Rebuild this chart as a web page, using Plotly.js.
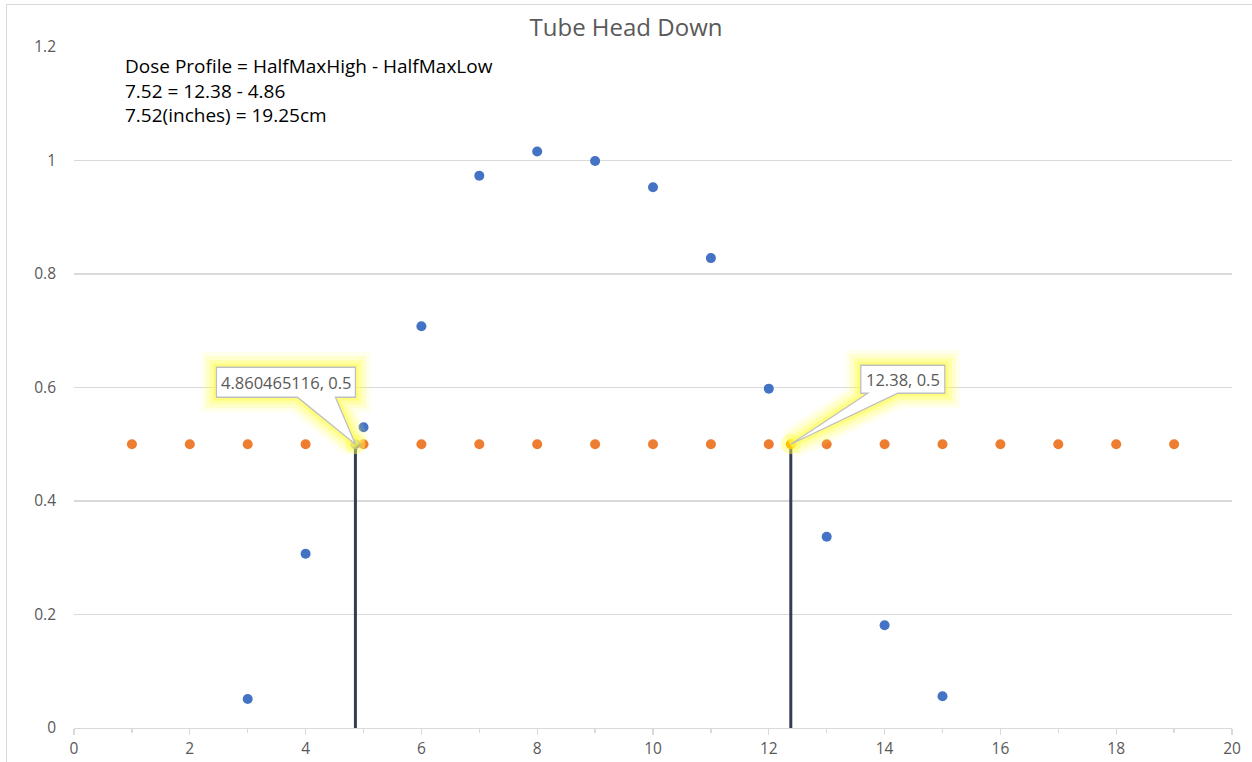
<!DOCTYPE html>
<html>
<head>
<meta charset="utf-8">
<script src="https://cdn.plot.ly/plotly-3.0.1.min.js"></script>
<style>
  html, body { margin:0; padding:0; background:#fff; }
  #chart { width:1252px; height:762px; }
  #frame { position:absolute; left:6px; top:4px; width:1250px; height:770px; border:1px solid #d9d9d9; pointer-events:none; }
</style>
</head>
<body>
<div id="chart"></div>
<div id="frame"></div>
<script>
// ---- data ----
const doseX = [3, 4, 5, 6, 7, 8, 9, 10, 11, 12, 13, 14, 15];
const doseY = [0.051, 0.307, 0.530, 0.708, 0.973, 1.016, 0.999, 0.953, 0.828, 0.598, 0.337, 0.181, 0.056];
const halfLineX = [1, 2, 3, 4, 5, 6, 7, 8, 9, 10, 11, 12, 13, 14, 15, 16, 17, 18, 19];
const halfLineY = [0.5, 0.5, 0.5, 0.5, 0.5, 0.5, 0.5, 0.5, 0.5, 0.5, 0.5, 0.5, 0.5, 0.5, 0.5, 0.5, 0.5, 0.5, 0.5];
const halfMaxLowX = 4.860465116;
const halfMaxHighX = 12.38;
const halfMaxY = 0.5;
const lowLabel = "4.860465116, 0.5";
const highLabel = "12.38, 0.5";
const noteLines = ["Dose Profile = HalfMaxHigh - HalfMaxLow", "7.52 = 12.38 - 4.86", "7.52(inches) = 19.25cm"];
const xTickVals = [0, 2, 4, 6, 8, 10, 12, 14, 16, 18, 20];
const yTickVals = [0, 0.2, 0.4, 0.6, 0.8, 1, 1.2];

const FONT = "'Open Sans', 'Noto Sans', sans-serif";
const textGrey = "#595959";

const traces = [
  { x: [halfMaxLowX, halfMaxLowX], y: [0, halfMaxY], mode: 'lines', line: {color: '#333f50', width: 3}, hoverinfo: 'skip' },
  { x: [halfMaxHighX, halfMaxHighX], y: [0, halfMaxY], mode: 'lines', line: {color: '#333f50', width: 3}, hoverinfo: 'skip' },
  { x: doseX, y: doseY, mode: 'markers', marker: {color: '#4472C4', size: 10} },
  { x: halfLineX, y: halfLineY, mode: 'markers', marker: {color: '#ED7D31', size: 10} },
  { x: [halfMaxLowX], y: [halfMaxY], mode: 'markers', marker: {color: 'rgba(255,255,90,0.45)', size: 20} },
  { x: [halfMaxHighX], y: [halfMaxY], mode: 'markers', marker: {color: 'rgba(255,255,90,0.45)', size: 20} },
  { x: [halfMaxLowX], y: [halfMaxY], mode: 'markers', marker: {color: '#B5B57E', size: 10} },
  { x: [halfMaxHighX], y: [halfMaxY], mode: 'markers', marker: {color: '#FFC000', size: 10} }
];

// callout outlines in pixel offsets relative to the anchored data point (y up)
function callout(box, wedge) {
  const [l, r, b, t] = box;
  const [w1, w2] = wedge;
  return `M${l},${t} L${r},${t} L${r},${b} L${w2},${b} L0,0 L${w1},${b} L${l},${b} Z`;
}
const lowPath = callout([-139, 0, 47, 77], [-58, -20]);
const highPath = callout([70, 154, 51, 79], [77, 107]);

function calloutShapes(xa, path) {
  const base = { type: 'path', xref: 'x', yref: 'y', xsizemode: 'pixel', ysizemode: 'pixel',
                 xanchor: xa, yanchor: halfMaxY, path: path, layer: 'above' };
  return [
    Object.assign({}, base, { line: {color: 'rgba(255,255,90,0.12)', width: 30}, fillcolor: 'rgba(255,255,90,0.2)' }),
    Object.assign({}, base, { line: {color: 'rgba(255,255,90,0.2)', width: 22}, fillcolor: 'rgba(0,0,0,0)' }),
    Object.assign({}, base, { line: {color: 'rgba(255,255,80,0.3)', width: 14}, fillcolor: 'rgba(0,0,0,0)' }),
    Object.assign({}, base, { line: {color: 'rgba(255,250,80,0.45)', width: 7}, fillcolor: 'rgba(0,0,0,0)' }),
    Object.assign({}, base, { line: {color: '#bfbfbf', width: 1.3}, fillcolor: '#ffffff' })
  ];
}

const layout = {
  width: 1252, height: 762,
  margin: {l: 74, r: 20, t: 47, b: 34},
  paper_bgcolor: '#ffffff', plot_bgcolor: '#ffffff',
  showlegend: false,
  font: {family: FONT, color: textGrey, size: 14},
  title: {text: 'Tube Head Down', font: {family: FONT, size: 24, color: textGrey}, x: 0.5, xanchor: 'center', y: 0.964, yanchor: 'middle'},
  xaxis: {
    range: [0, 20], tickvals: xTickVals, showgrid: false, zeroline: false,
    showline: true, linecolor: '#d9d9d9', linewidth: 1.3,
    ticks: 'outside', ticklen: 6, tickcolor: '#d9d9d9', tickwidth: 1.3,
    minor: {dtick: 1, ticks: 'outside', ticklen: 4, tickcolor: '#d9d9d9', showgrid: false},
    tickfont: {family: FONT, size: 15.5, color: textGrey}
  },
  yaxis: {
    range: [0, 1.2], tickvals: yTickVals, showgrid: true, gridcolor: '#d9d9d9', gridwidth: 1.3,
    zeroline: false, showline: false, ticks: '', ticklabelstandoff: 17,
    tickfont: {family: FONT, size: 15.5, color: textGrey}
  },
  shapes: [].concat(calloutShapes(halfMaxLowX, lowPath), calloutShapes(halfMaxHighX, highPath)),
  annotations: [
    { xref: 'paper', yref: 'paper', x: 0.0425, y: 0.994, xanchor: 'left', yanchor: 'top', align: 'left',
      showarrow: false, text: noteLines.join('<br>'), font: {family: FONT, size: 19, color: '#000000'} },
    { x: halfMaxLowX, y: halfMaxY, xref: 'x', yref: 'y', showarrow: false, xshift: -69.5, yshift: 62,
      text: lowLabel, font: {family: FONT, size: 16.5, color: textGrey} },
    { x: halfMaxHighX, y: halfMaxY, xref: 'x', yref: 'y', showarrow: false, xshift: 112, yshift: 65,
      text: highLabel, font: {family: FONT, size: 16.5, color: textGrey} }
  ]
};

Plotly.newPlot('chart', traces, layout, {displayModeBar: false, staticPlot: true});
</script>
</body>
</html>
